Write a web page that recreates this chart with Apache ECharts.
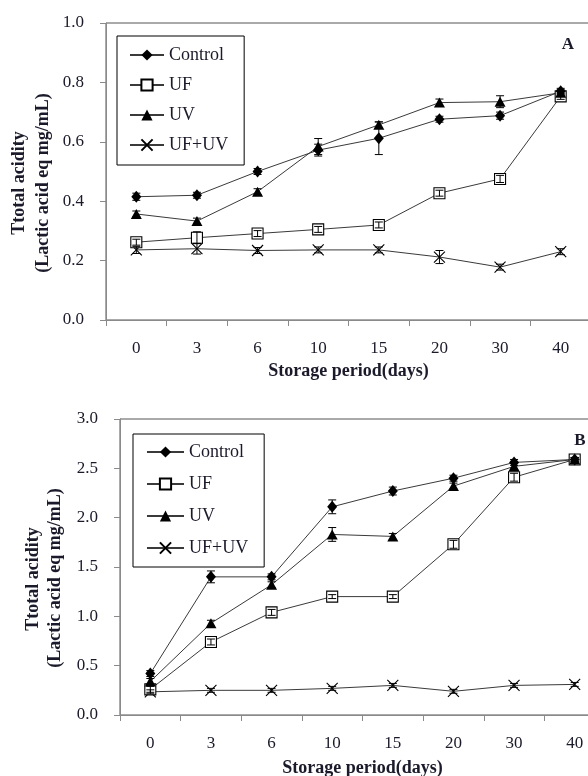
<!DOCTYPE html>
<html>
<head>
<meta charset="utf-8">
<script src="https://cdn.jsdelivr.net/npm/echarts@6/dist/echarts.min.js"></script>
<style>
html,body{margin:0;padding:0;background:#fff;}
#chart{width:588px;height:776px;}
</style>
</head>
<body>
<div id="chart"></div>
<script>
// ---- data ----
const categories = ['0', '3', '6', '10', '15', '20', '30', '40'];
const seriesNames = ['Control', 'UF', 'UV', 'UF+UV'];

// Panel A
const controlA = [0.415, 0.420, 0.500, 0.572, 0.612, 0.676, 0.688, 0.770];
const ufA      = [0.262, 0.277, 0.291, 0.305, 0.320, 0.427, 0.475, 0.753];
const uvA      = [0.357, 0.333, 0.432, 0.584, 0.657, 0.732, 0.735, 0.765];
const ufuvA    = [0.236, 0.240, 0.234, 0.236, 0.236, 0.212, 0.178, 0.230];
const controlAErr = [0.012, 0.010, 0.010, 0.020, 0.055, 0.010, 0.012, 0.010];
const ufAErr      = [0.010, 0.020, 0.010, 0.010, 0.010, 0.010, 0.012, 0.010];
const uvAErr      = [0.010, 0.010, 0.010, 0.027, 0.010, 0.012, 0.020, 0.010];
const ufuvAErr    = [0.012, 0.018, 0.010, 0.010, 0.010, 0.022, 0.010, 0.010];

// Panel B
const controlB = [0.42, 1.40, 1.40, 2.11, 2.27, 2.40, 2.56, 2.59];
const ufB      = [0.26, 0.74, 1.04, 1.20, 1.20, 1.73, 2.41, 2.59];
const uvB      = [0.34, 0.93, 1.32, 1.83, 1.81, 2.32, 2.52, 2.59];
const ufuvB    = [0.235, 0.25, 0.25, 0.27, 0.30, 0.24, 0.30, 0.31];
const controlBErr = [0.03, 0.06, 0.03, 0.07, 0.04, 0.03, 0.03, 0.02];
const ufBErr      = [0.03, 0.03, 0.03, 0.02, 0.02, 0.04, 0.04, 0.02];
const uvBErr      = [0.03, 0.03, 0.03, 0.07, 0.03, 0.03, 0.03, 0.02];
const ufuvBErr    = [0.02, 0.02, 0.02, 0.02, 0.02, 0.02, 0.02, 0.02];

const yTitle1 = 'Ttotal acidity';
const yTitle2 = '(Lactic acid eq mg/mL)';
const xTitle = 'Storage period(days)';

// ---- styles ----
const SERIF = '"Liberation Serif", "Times New Roman", serif';
const TXT = '#1a1a2a';
const symbols = {
  'Control': {symbol: 'diamond', size: [10, 12], color: '#000'},
  'UF': {symbol: 'rect', size: 11, color: '#fff'},
  'UV': {symbol: 'triangle', size: [11, 10], color: '#000'},
  'UF+UV': {symbol: 'path://M0,0L10,10M10,0L0,10', size: 11, color: 'rgba(0,0,0,0)'}
};

function lineSeries(name, data, idx) {
  const s = symbols[name];
  return {
    type: 'line', name: name, data: data,
    xAxisIndex: idx, yAxisIndex: idx,
    symbol: s.symbol, symbolSize: s.size,
    showAllSymbol: true, clip: false,
    lineStyle: {color: '#3a3a3a', width: 1},
    itemStyle: {color: s.color, borderColor: '#000', borderWidth: name === 'Control' || name === 'UV' ? 0 : 1.1, opacity: 1},
    emphasis: {disabled: true},
    z: 3, animation: false
  };
}

function errSeries(name, vals, errs, idx) {
  return {
    type: 'custom', name: 'err-' + name + '-' + idx,
    xAxisIndex: idx, yAxisIndex: idx,
    data: vals.map((v, i) => [i, v, errs[i]]),
    encode: {x: 0, y: 1},
    renderItem: function (params, api) {
      const x = api.value(0), y = api.value(1), e = api.value(2);
      const t = api.coord([x, y + e]);
      const b = api.coord([x, y - e]);
      const w = 4;
      const st = {stroke: '#000', lineWidth: 1};
      return {type: 'group', children: [
        {type: 'line', shape: {x1: t[0], y1: t[1], x2: b[0], y2: b[1]}, style: st},
        {type: 'line', shape: {x1: t[0] - w, y1: t[1], x2: t[0] + w, y2: t[1]}, style: st},
        {type: 'line', shape: {x1: b[0] - w, y1: b[1], x2: b[0] + w, y2: b[1]}, style: st}
      ]};
    },
    z: 5, silent: true, animation: false
  };
}

function xAxis(idx, nameGap) {
  return {
    type: 'category', data: categories, gridIndex: idx, boundaryGap: true,
    axisLine: {show: true, lineStyle: {color: '#8a8a8a', width: 1}},
    axisTick: {show: true, length: 6, lineStyle: {color: '#8a8a8a'}},
    axisLabel: {margin: 20, fontFamily: SERIF, fontSize: 17, color: TXT},
    splitLine: {show: false},
    name: xTitle, nameLocation: 'middle', nameGap: nameGap,
    nameTextStyle: {fontFamily: SERIF, fontSize: 18, fontWeight: 'bold', color: TXT}
  };
}
function yAxis(idx, max, interval) {
  return {
    type: 'value', gridIndex: idx, min: 0, max: max, interval: interval,
    axisLine: {show: true, lineStyle: {color: '#8a8a8a', width: 1}},
    axisTick: {show: true, length: 6, lineStyle: {color: '#8a8a8a'}},
    axisLabel: {margin: 22, fontFamily: SERIF, fontSize: 17, color: TXT, formatter: v => v.toFixed(1)},
    splitLine: {show: false}
  };
}
function legend(left, top, gap, itemWidth, pad) {
  return {
    data: seriesNames, orient: 'vertical', left: left, top: top,
    itemWidth: itemWidth, itemHeight: 14, itemGap: gap,
    padding: pad, borderColor: '#000', borderWidth: 1, backgroundColor: '#fff',
    textStyle: {fontFamily: SERIF, fontSize: 18, color: TXT},
    selectedMode: false, inactiveColor: '#000'
  };
}

const chart = echarts.init(document.getElementById('chart'), null, {renderer: 'canvas'});
chart.setOption({
  animation: false,
  backgroundColor: '#fff',
  grid: [
    {left: 106, top: 23, width: 485, height: 297, show: true, borderColor: '#555', borderWidth: 1, backgroundColor: 'transparent', containLabel: false, outerBoundsMode: 'none'},
    {left: 120, top: 419, width: 485, height: 296, show: true, borderColor: '#555', borderWidth: 1, backgroundColor: 'transparent', containLabel: false, outerBoundsMode: 'none'}
  ],
  xAxis: [xAxis(0, 42), xAxis(1, 44)],
  yAxis: [yAxis(0, 1, 0.2), yAxis(1, 3, 0.5)],
  legend: [legend(117, 36, 12, 34, [10, 16, 11, 12]), legend(133, 434, 14, 37, [9, 16, 10, 13])],
  series: [
    lineSeries('UF+UV', ufuvA, 0), lineSeries('UF', ufA, 0), lineSeries('UV', uvA, 0), lineSeries('Control', controlA, 0),
    errSeries('Control', controlA, controlAErr, 0), errSeries('UF', ufA, ufAErr, 0),
    errSeries('UV', uvA, uvAErr, 0), errSeries('UF+UV', ufuvA, ufuvAErr, 0),
    lineSeries('UF+UV', ufuvB, 1), lineSeries('UF', ufB, 1), lineSeries('UV', uvB, 1), lineSeries('Control', controlB, 1),
    errSeries('Control', controlB, controlBErr, 1), errSeries('UF', ufB, ufBErr, 1),
    errSeries('UV', uvB, uvBErr, 1), errSeries('UF+UV', ufuvB, ufuvBErr, 1)
  ],
  graphic: [
    {type: 'text', x: 19, y: 183, rotation: Math.PI / 2, style: {text: yTitle1, font: 'bold 18px ' + SERIF, fill: TXT, align: 'center', verticalAlign: 'middle'}},
    {type: 'text', x: 43, y: 183, rotation: Math.PI / 2, style: {text: yTitle2, font: 'bold 18px ' + SERIF, fill: TXT, align: 'center', verticalAlign: 'middle'}},
    {type: 'text', x: 33, y: 579, rotation: Math.PI / 2, style: {text: yTitle1, font: 'bold 18px ' + SERIF, fill: TXT, align: 'center', verticalAlign: 'middle'}},
    {type: 'text', x: 55, y: 578, rotation: Math.PI / 2, style: {text: yTitle2, font: 'bold 18px ' + SERIF, fill: TXT, align: 'center', verticalAlign: 'middle'}},
    {type: 'text', x: 568, y: 45, style: {text: 'A', font: 'bold 17px ' + SERIF, fill: TXT, align: 'center', verticalAlign: 'middle'}},
    {type: 'text', x: 580, y: 441, style: {text: 'B', font: 'bold 17px ' + SERIF, fill: TXT, align: 'center', verticalAlign: 'middle'}}
  ]
});
</script>
</body>
</html>
